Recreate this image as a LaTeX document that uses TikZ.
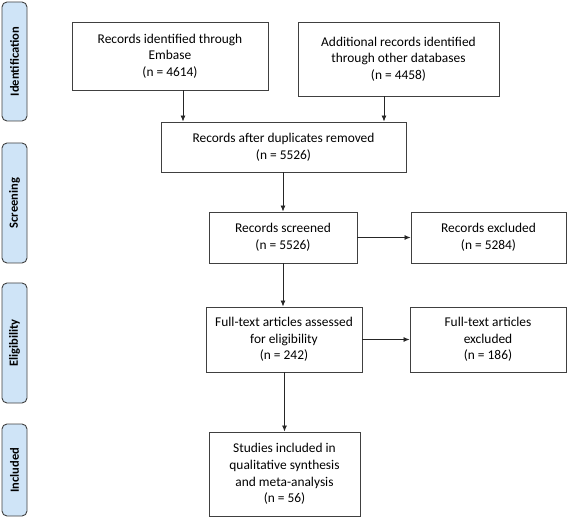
\documentclass[tikz,border=0pt]{standalone}
\usepackage{fontspec}
\setmainfont{Carlito}
\usetikzlibrary{arrows.meta}
\definecolor{sidefill}{HTML}{CFE4F7}
\definecolor{boxline}{HTML}{404040}
\begin{document}
\begin{tikzpicture}[x=1pt,y=-1pt,
  box/.style={draw=boxline, line width=0.9pt, align=center, inner sep=2pt,
    font=\fontsize{13.4}{16.7}\selectfont},
  side/.style={draw=boxline, line width=0.9pt, fill=sidefill, rounded corners=5pt,
    minimum width=25pt, font=\fontsize{12.5}{15}\selectfont\bfseries, rotate=90,
    inner sep=0pt},
  arr/.style={-{Latex[length=6pt,width=5pt]}, line width=0.8pt, draw=black!85}]
\useasboundingbox (0,0) rectangle (567,518);
% side labels
\node[side, minimum width=119pt, minimum height=25pt] (sid) at (14.5,61.5) {Identification};
\node[side, minimum width=120pt, minimum height=25pt] (ssc) at (14.5,203) {Screening};
\node[side, minimum width=120pt, minimum height=25pt] (sel) at (14.5,343) {Eligibility};
\node[side, minimum width=92pt, minimum height=25pt] (sin) at (14.5,470) {Included};
% boxes
\node[box, minimum width=196pt, minimum height=68pt] (emb) at (170,56) {Records identified through\\Embase\\(n = 4614)};
\node[box, minimum width=201pt, minimum height=74pt] (add) at (398.5,59) {Additional records identified\\through other databases\\(n = 4458)};
\node[box, minimum width=245pt, minimum height=50pt] (dup) at (283.5,147) {Records after duplicates removed\\(n = 5526)};
\node[box, minimum width=148pt, minimum height=51pt] (scr) at (283,237.5) {Records screened\\(n = 5526)};
\node[box, minimum width=155pt, minimum height=51pt] (exc) at (488.5,237.5) {Records excluded\\(n = 5284)};
\node[box, minimum width=156pt, minimum height=65pt] (ft) at (284,339.5) {Full-text articles assessed\\for eligibility\\(n = 242)};
\node[box, minimum width=156pt, minimum height=65pt] (fte) at (488,339.5) {Full-text articles\\excluded\\(n = 186)};
\node[box, minimum width=151pt, minimum height=84pt] (inc) at (284.5,474) {Studies included in\\qualitative synthesis\\and meta-analysis\\(n = 56)};
% arrows
\draw[arr] (emb.south -| 183,0) -- (dup.north -| 183,0);
\draw[arr] (add.south -| 384,0) -- (dup.north -| 384,0);
\draw[arr] (dup.south -| scr.north) -- (scr.north);
\draw[arr] (scr.east) -- (exc.west);
\draw[arr] (scr.south) -- (ft.north -| scr.south);
\draw[arr] (ft.east) -- (fte.west);
\draw[arr] (ft.south -| inc.north) -- (inc.north);
\end{tikzpicture}
\end{document}
